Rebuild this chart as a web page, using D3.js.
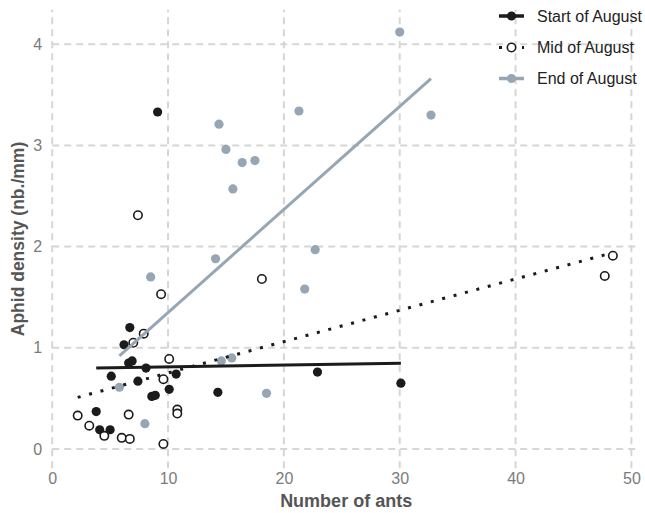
<!DOCTYPE html>
<html><head><meta charset="utf-8">
<script src="https://cdn.jsdelivr.net/npm/d3@7"></script>
<style>
html,body{margin:0;padding:0;background:#fff;}
svg{display:block;}
</style></head>
<body>
<svg id="chart" width="645" height="513"></svg>
<script>
// ---- data ----
const startX = [9.1, 6.7, 6.2, 6.6, 6.9, 8.1, 5.1, 7.4, 10.7, 10.1, 8.6, 8.9, 14.3, 22.9, 30.1, 3.8, 4.1, 5.0];
const startY = [3.33, 1.20, 1.03, 0.85, 0.87, 0.80, 0.72, 0.67, 0.74, 0.59, 0.52, 0.53, 0.56, 0.76, 0.65, 0.37, 0.19, 0.19];

const midX = [7.4, 9.4, 18.1, 7.9, 7.0, 10.1, 9.6, 10.8, 10.8, 6.6, 2.2, 3.2, 4.5, 6.0, 6.7, 9.6, 48.4, 47.7];
const midY = [2.31, 1.53, 1.68, 1.14, 1.05, 0.89, 0.69, 0.39, 0.35, 0.34, 0.33, 0.23, 0.13, 0.11, 0.10, 0.05, 1.91, 1.71];

const endX = [30.0, 32.7, 21.3, 14.4, 15.0, 16.4, 17.5, 15.6, 14.1, 22.7, 21.8, 8.5, 14.6, 15.5, 18.5, 5.8, 8.0];
const endY = [4.12, 3.30, 3.34, 3.21, 2.96, 2.83, 2.85, 2.57, 1.88, 1.97, 1.58, 1.70, 0.87, 0.90, 0.55, 0.61, 0.25];

// fitted lines (endpoints)
const startFitX = [3.8, 30.1], startFitY = [0.80, 0.847];
const midFitX = [2.2, 48.4], midFitY = [0.51, 1.94];
const endFitX = [5.8, 32.7], endFitY = [0.92, 3.66];

const xTicks = [0, 10, 20, 30, 40, 50];
const yTicks = [0, 1, 2, 3, 4];
const seriesNames = ["Start of August", "Mid of August", "End of August"];

// ---- drawing ----
const svg = d3.select("#chart");
const x = d3.scaleLinear().domain([0, 50]).range([52.2, 631.4]);
const y = d3.scaleLinear().domain([0, 4]).range([449, 44.2]);

const gridColor = "#d6d6d6";
const black = "#1b1b1b";
const grey = "#97a6b5";

// gridlines
const grid = svg.append("g");
grid.selectAll("line.h").data(yTicks).join("line")
  .attr("x1", x(0)).attr("x2", x(50.75))
  .attr("y1", d => y(d)).attr("y2", d => y(d))
  .attr("stroke", gridColor).attr("stroke-width", 2).attr("stroke-dasharray", "7,5");
grid.selectAll("line.v").data(xTicks).join("line")
  .attr("x1", d => x(d)).attr("x2", d => x(d))
  .attr("y1", y(-0.19)).attr("y2", y(4.34))
  .attr("stroke", gridColor).attr("stroke-width", 2).attr("stroke-dasharray", "7,5");

// axes (labels only)
const tickFont = "'Liberation Sans Narrow','Arial Narrow','Liberation Sans',Arial,sans-serif";
const xAxis = svg.append("g").attr("transform", `translate(0,${y(0) + 24})`)
  .call(d3.axisBottom(x).tickValues(xTicks).tickFormat(d3.format("d")).tickSize(0).tickPadding(0));
const yAxis = svg.append("g").attr("transform", `translate(${x(0) - 10},0)`)
  .call(d3.axisLeft(y).tickValues(yTicks).tickFormat(d3.format("d")).tickSize(0).tickPadding(0));
[xAxis, yAxis].forEach(a => {
  a.select(".domain").remove();
  a.selectAll("text").attr("fill", "#7b7b7b").style("font-family", tickFont).style("font-size", "16px");
});
xAxis.selectAll("text").attr("dy", "0.71em").attr("y", 0);

// axis titles
svg.append("text").attr("x", (x(0) + x(50.75)) / 2).attr("y", 507)
  .attr("text-anchor", "middle").attr("fill", "#555")
  .style("font-family", "'Liberation Sans',Arial,sans-serif").style("font-weight", "bold").style("font-size", "18px")
  .text("Number of ants");
svg.append("text").attr("transform", `translate(24,${(y(-0.19) + y(4.34)) / 2}) rotate(-90)`)
  .attr("text-anchor", "middle").attr("fill", "#555")
  .style("font-family", "'Liberation Sans',Arial,sans-serif").style("font-weight", "bold").style("font-size", "17.5px")
  .text("Aphid density (nb./mm)");

// points
const pts = svg.append("g");
const mk = (xs, ys) => xs.map((v, i) => ({ x: v, y: ys[i] }));
pts.selectAll("circle.s").data(mk(startX, startY)).join("circle")
  .attr("cx", d => x(d.x)).attr("cy", d => y(d.y)).attr("r", 4.6).attr("fill", black);
pts.selectAll("circle.e").data(mk(endX, endY)).join("circle")
  .attr("cx", d => x(d.x)).attr("cy", d => y(d.y)).attr("r", 4.6).attr("fill", grey);
pts.selectAll("circle.m").data(mk(midX, midY)).join("circle")
  .attr("cx", d => x(d.x)).attr("cy", d => y(d.y)).attr("r", 4.2)
  .attr("fill", "#fff").attr("stroke", black).attr("stroke-width", 1.6);

// fitted lines
const line = d3.line().x(d => x(d.x)).y(d => y(d.y));
svg.append("path").datum(mk(endFitX, endFitY)).attr("d", line)
  .attr("fill", "none").attr("stroke", grey).attr("stroke-width", 3);
svg.append("path").datum(mk(startFitX, startFitY)).attr("d", line)
  .attr("fill", "none").attr("stroke", black).attr("stroke-width", 3);
svg.append("path").datum(mk(midFitX, midFitY)).attr("d", line)
  .attr("fill", "none").attr("stroke", black).attr("stroke-width", 3).attr("stroke-dasharray", "3,8.8");

// legend
const lg = svg.append("g");
const rowsY = [16, 47.5, 78.5];
seriesNames.forEach((name, i) => {
  const g = lg.append("g").attr("transform", `translate(0,${rowsY[i]})`);
  if (i === 0) {
    g.append("line").attr("x1", 499).attr("x2", 524).attr("stroke", black).attr("stroke-width", 3.5);
    g.append("circle").attr("cx", 511.5).attr("r", 4.6).attr("fill", black);
  } else if (i === 1) {
    g.append("line").attr("x1", 499).attr("x2", 524).attr("stroke", black).attr("stroke-width", 3).attr("stroke-dasharray", "3,8.5");
    g.append("circle").attr("cx", 511.5).attr("r", 4.2).attr("fill", "#fff").attr("stroke", black).attr("stroke-width", 1.6);
  } else {
    g.append("line").attr("x1", 499).attr("x2", 524).attr("stroke", grey).attr("stroke-width", 3.5);
    g.append("circle").attr("cx", 511.5).attr("r", 4.6).attr("fill", grey);
  }
  g.append("text").attr("x", 537).attr("dy", "0.36em").attr("fill", "#222")
    .style("font-family", "'Liberation Sans',Arial,sans-serif").style("font-size", "16px")
    .text(name);
});
</script>
</body></html>
